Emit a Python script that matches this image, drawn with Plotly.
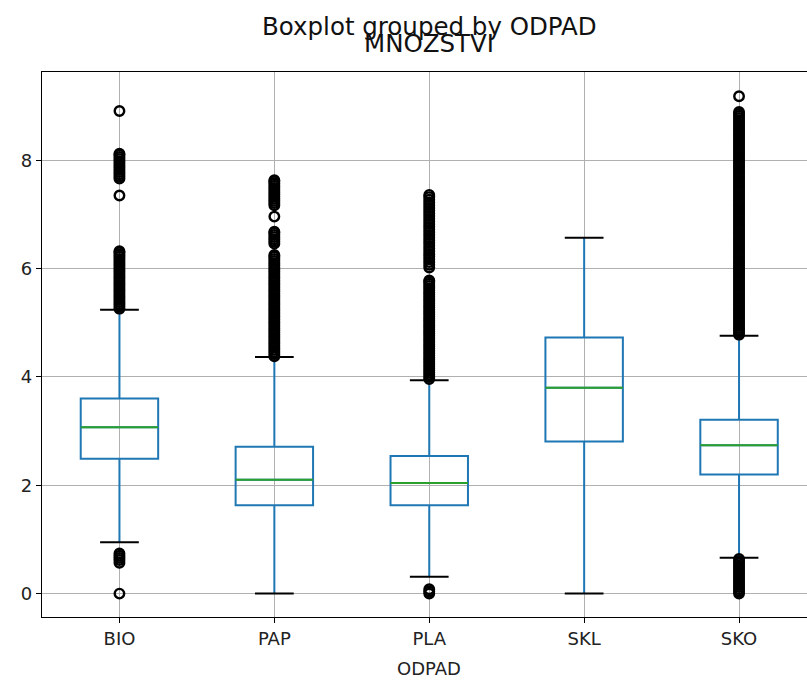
import plotly.graph_objects as go

categories = ["BIO", "PAP", "PLA", "SKL", "SKO"]
positions = [1, 2, 3, 4, 5]

q1 = [2.49, 1.63, 1.63, 2.81, 2.20]
median = [3.07, 2.10, 2.04, 3.80, 2.74]
q3 = [3.60, 2.71, 2.54, 4.73, 3.21]
lower_whisker = [0.95, 0.00, 0.31, 0.00, 0.66]
upper_whisker = [5.24, 4.37, 3.94, 6.57, 4.76]

outliers_bio = [8.91,
                8.12, 8.10, 8.06, 8.02, 7.98, 7.94, 7.90, 7.86, 7.82, 7.78, 7.74, 7.70, 7.66,
                7.35,
                6.32, 6.30, 6.26, 6.22, 6.18, 6.14, 6.10, 6.06, 6.02, 5.98, 5.94, 5.90,
                5.86, 5.82, 5.78, 5.74, 5.70, 5.66, 5.62, 5.58, 5.54, 5.50, 5.46, 5.42,
                5.38, 5.34, 5.30, 5.26,
                0.74, 0.70, 0.66, 0.62, 0.57, 0.00]
outliers_pap = [7.63, 7.61, 7.57, 7.53, 7.49, 7.45, 7.41, 7.37, 7.33, 7.29, 7.25, 7.21, 7.17,
                6.96,
                6.68, 6.66, 6.62, 6.58, 6.54, 6.50, 6.46,
                6.25, 6.22, 6.18, 6.14, 6.10, 6.06, 6.02, 5.98, 5.94, 5.90, 5.86, 5.82,
                5.78, 5.74, 5.70, 5.66, 5.62, 5.58, 5.54, 5.50, 5.46, 5.42, 5.38, 5.34,
                5.30, 5.26, 5.22, 5.18, 5.14, 5.10, 5.06, 5.02, 4.98, 4.94, 4.90, 4.86,
                4.82, 4.78, 4.74, 4.70, 4.66, 4.62, 4.58, 4.54, 4.50, 4.46, 4.42, 4.38]
outliers_pla = [7.36, 7.32, 7.27, 7.22, 7.17, 7.12, 7.07, 7.02, 6.97, 6.92, 6.87, 6.82,
                6.77, 6.72, 6.67, 6.62, 6.57, 6.52, 6.47, 6.42, 6.37, 6.32, 6.27, 6.22,
                6.17, 6.12, 6.07, 6.02,
                5.78, 5.76, 5.72, 5.68, 5.64, 5.60, 5.56, 5.52, 5.48, 5.44, 5.40, 5.36,
                5.32, 5.28, 5.24, 5.20, 5.16, 5.12, 5.08, 5.04, 5.00, 4.96, 4.92, 4.88,
                4.84, 4.80, 4.76, 4.72, 4.68, 4.64, 4.60, 4.56, 4.52, 4.48, 4.44, 4.40,
                4.36, 4.32, 4.28, 4.24, 4.20, 4.16, 4.12, 4.08, 4.04, 4.00, 3.96,
                0.08, 0.04, 0.00]
outliers_skl = []
outliers_sko = [9.18,
                8.89, 8.86, 8.82, 8.78, 8.74, 8.70, 8.66, 8.62, 8.58, 8.54, 8.50, 8.46,
                8.42, 8.38, 8.34, 8.30, 8.26, 8.22, 8.18, 8.14, 8.10, 8.06, 8.02, 7.98,
                7.94, 7.90, 7.86, 7.82, 7.78, 7.74, 7.70, 7.66, 7.62, 7.58, 7.54, 7.50,
                7.46, 7.42, 7.38, 7.34, 7.30, 7.26, 7.22, 7.18, 7.14, 7.10, 7.06, 7.02,
                6.98, 6.94, 6.90, 6.86, 6.82, 6.78, 6.74, 6.70, 6.66, 6.62, 6.58, 6.54,
                6.50, 6.46, 6.42, 6.38, 6.34, 6.30, 6.26, 6.22, 6.18, 6.14, 6.10, 6.06,
                6.02, 5.98, 5.94, 5.90, 5.86, 5.82, 5.78, 5.74, 5.70, 5.66, 5.62, 5.58,
                5.54, 5.50, 5.46, 5.42, 5.38, 5.34, 5.30, 5.26, 5.22, 5.18, 5.14, 5.10,
                5.06, 5.02, 4.98, 4.94, 4.90, 4.86, 4.82, 4.78,
                0.64, 0.60, 0.56, 0.52, 0.48, 0.44, 0.40, 0.36, 0.32, 0.28, 0.24, 0.20,
                0.16, 0.12, 0.08, 0.04, 0.00]
outliers = [outliers_bio, outliers_pap, outliers_pla, outliers_skl, outliers_sko]

yticks = [0, 2, 4, 6, 8]

BOX_W = 0.5
CAP_W = 0.25
FONT = "DejaVu Sans"

fig = go.Figure()

fig.add_trace(go.Box(
    x=positions, q1=q1, median=median, q3=q3,
    lowerfence=lower_whisker, upperfence=upper_whisker,
    boxpoints=False, width=BOX_W, whiskerwidth=0.0001,
    line=dict(color="#1f77b4", width=2),
    fillcolor="rgba(0,0,0,0)", showlegend=False, hoverinfo="skip",
))

# whisker caps (black)
cx, cy = [], []
for p, lo, hi in zip(positions, lower_whisker, upper_whisker):
    cx += [p - CAP_W / 2, p + CAP_W / 2, None, p - CAP_W / 2, p + CAP_W / 2, None]
    cy += [lo, lo, None, hi, hi, None]
fig.add_trace(go.Scatter(x=cx, y=cy, mode="lines",
                         line=dict(color="black", width=2),
                         showlegend=False, hoverinfo="skip"))

# medians (green)
mx, my = [], []
for p, m in zip(positions, median):
    mx += [p - BOX_W / 2, p + BOX_W / 2, None]
    my += [m, m, None]
fig.add_trace(go.Scatter(x=mx, y=my, mode="lines",
                         line=dict(color="#2ca02c", width=2),
                         showlegend=False, hoverinfo="skip"))

# fliers
ox, oy = [], []
for p, vals in zip(positions, outliers):
    ox += [p] * len(vals)
    oy += vals
fig.add_trace(go.Scatter(x=ox, y=oy, mode="markers",
                         marker=dict(symbol="circle-open", size=9.5,
                                     color="black", line=dict(width=2.4, color="black")),
                         showlegend=False, hoverinfo="skip"))

W, H = 807, 680
L, T, B = 41.5, 72, 680 - 617
px_per_unit = 155.0
x_right = 0.5 + (W - L) / px_per_unit
xc = (429 - L) / (W - L)

fig.update_layout(
    width=W, height=H,
    margin=dict(l=L, r=0, t=T, b=B, pad=0),
    plot_bgcolor="white", paper_bgcolor="white",
    font=dict(family=FONT, size=18, color="black"),
    xaxis=dict(
        range=[0.5, x_right], tickvals=positions, ticktext=categories,
        showgrid=True, gridcolor="#b0b0b0", gridwidth=1,
        showline=True, linecolor="black", linewidth=1.3, mirror=True,
        ticks="outside", ticklen=5, tickwidth=1.3, tickcolor="black",
        zeroline=False, tickfont=dict(family=FONT, size=18, color="#222"),
    ),
    yaxis=dict(
        range=[-0.432, 9.629], tickvals=yticks,
        showgrid=True, gridcolor="#b0b0b0", gridwidth=1,
        showline=True, linecolor="black", linewidth=1.3, mirror=False,
        ticks="outside", ticklen=5, tickwidth=1.3, tickcolor="black",
        zeroline=False, tickfont=dict(family=FONT, size=18, color="#222"),
    ),
    annotations=[
        dict(text="Boxplot grouped by ODPAD", xref="paper", yref="paper",
             x=xc, y=1, yanchor="middle", yshift=46,
             showarrow=False, font=dict(family=FONT, size=24.5, color="#111")),
        dict(text="MNOZSTVI", xref="paper", yref="paper",
             x=xc, y=1, yanchor="middle", yshift=29,
             showarrow=False, font=dict(family=FONT, size=24.5, color="#111")),
        dict(text="ODPAD", xref="paper", yref="paper",
             x=xc, y=0, yanchor="middle", yshift=-51,
             showarrow=False, font=dict(family=FONT, size=18, color="#222")),
    ],
)

fig.write_html(
    "out.html",
    config={"displayModeBar": False},
    post_script="document.body.style.margin='0';document.body.style.overflow='hidden';",
)
